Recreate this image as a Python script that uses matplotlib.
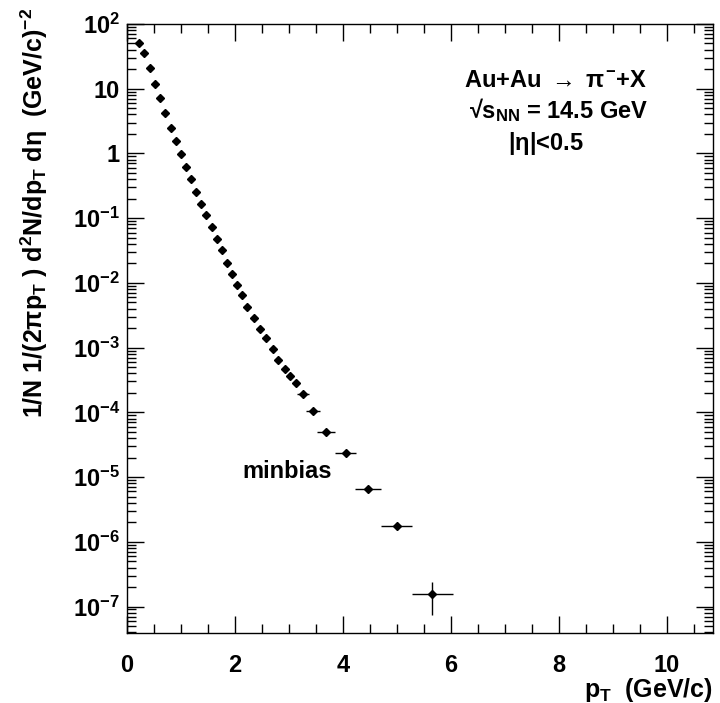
import numpy as np
import matplotlib
matplotlib.use("Agg")
import matplotlib.pyplot as plt
from matplotlib.ticker import MultipleLocator, LogLocator, FuncFormatter, NullFormatter

# ROOT-like bold Helvetica look
plt.rcParams['font.family'] = ['Liberation Sans', 'DejaVu Sans']
plt.rcParams['font.weight'] = 'bold'
plt.rcParams['axes.labelweight'] = 'bold'
plt.rcParams['mathtext.fontset'] = 'custom'
plt.rcParams['mathtext.rm'] = 'Liberation Sans:bold'
plt.rcParams['mathtext.it'] = 'Liberation Sans:bold'
plt.rcParams['mathtext.bf'] = 'Liberation Sans:bold'
plt.rcParams['mathtext.sf'] = 'Liberation Sans:bold'

# pi- spectrum, Au+Au 14.5 GeV, minbias
pt_low = [0.22, 0.32, 0.43, 0.52, 0.62, 0.70, 0.81, 0.90, 1.00, 1.09,
          1.19, 1.28, 1.37, 1.46, 1.57, 1.66, 1.76, 1.85, 1.95, 2.03,
          2.13, 2.22, 2.35, 2.47, 2.58, 2.70, 2.80, 2.93, 3.02, 3.13]
yield_low = [50.5, 35.4, 21.0, 11.9, 7.1, 4.28, 2.51, 1.57, 0.966, 0.618,
             0.398, 0.257, 0.164, 0.110, 0.072, 0.0475, 0.0318, 0.0206, 0.01375, 0.00922,
             0.0064, 0.00428, 0.00287, 0.00194, 0.0014, 0.000944, 0.000646, 0.00047, 0.000358, 0.000279]

pt_high = [3.26, 3.45, 3.69, 4.05, 4.47, 5.00, 5.66]
yield_high = [1.89e-4, 1.06e-4, 4.92e-5, 2.34e-5, 6.63e-6, 1.76e-6, 1.55e-7]
pt_halfwidth = [0.11, 0.125, 0.165, 0.195, 0.245, 0.29, 0.375]
yield_err = [0, 0, 0, 0, 0, 0, 8.0e-8]

fig = plt.figure(figsize=(7.2, 7.03), dpi=100)
ax = fig.add_axes([0.1764, 0.0996, 0.8139, 0.8663])

ax.plot(pt_low, yield_low, 'D', color='black', markersize=4.3, linestyle='none')
ax.errorbar(pt_high, yield_high, xerr=pt_halfwidth, yerr=yield_err, fmt='D',
            color='black', markersize=4.3, elinewidth=1, capsize=0)

ax.set_yscale('log')
ax.set_xlim(0, 10.86)
ax.set_ylim(3.9e-8, 100)

ax.xaxis.set_major_locator(MultipleLocator(2))
ax.xaxis.set_minor_locator(MultipleLocator(0.5))
ax.yaxis.set_major_locator(LogLocator(base=10, numticks=20))
ax.yaxis.set_minor_locator(LogLocator(base=10, subs=np.arange(2, 10), numticks=20))
ax.yaxis.set_minor_formatter(NullFormatter())


def log_label(v, pos):
    e = int(round(np.log10(v)))
    if e == 0:
        return '1'
    if e == 1:
        return '10'
    return r'$10^{%d}$' % e


ax.yaxis.set_major_formatter(FuncFormatter(log_label))

ax.tick_params(which='both', direction='in', top=True, right=True, width=1)
ax.tick_params(which='major', length=12.5)
ax.tick_params(which='minor', length=6.5)
ax.tick_params(axis='x', labelsize=17, pad=15)
ax.tick_params(axis='y', labelsize=17, pad=5)
for s in ax.spines.values():
    s.set_linewidth(1)

ax.set_xlabel(r'$p_T$  (GeV/c)', fontsize=18, loc='right')
ax.xaxis.set_label_coords(1.0, -0.07)
ax.set_ylabel(r'1/N 1/(2$\pi p_T$ ) d$^2$N/d$p_T$ d$\eta$  (GeV/c)$^{-2}$', fontsize=18, loc='top')
ax.yaxis.set_label_coords(-0.131, 1.026)

fig.text(0.772, 0.886, r'Au+Au $\rightarrow$ $\pi^{-}$+X', fontsize=17, ha='center', va='center')
fig.text(0.776, 0.843, '\u221a' + r'$s_{NN}$ = 14.5 GeV', fontsize=17, ha='center', va='center')
fig.text(0.758, 0.796, r'$|\eta|$<0.5', fontsize=17, ha='center', va='center')
fig.text(0.399, 0.329, 'minbias', fontsize=17, ha='center', va='center')

fig.savefig('out.png', dpi=100)
